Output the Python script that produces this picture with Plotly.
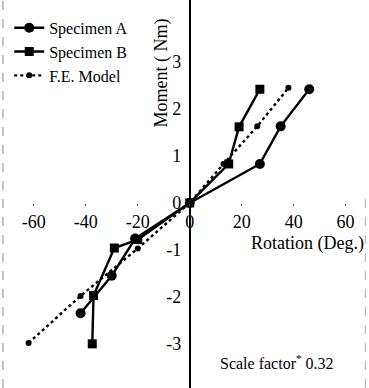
import plotly.graph_objects as go

# Data
rot_a = [-42, -30, -21, 0, 27, 35, 46]
mom_a = [-2.35, -1.55, -0.76, 0, 0.83, 1.63, 2.42]

rot_b = [-37.5, -37, -29, -20, 0, 15, 19, 27]
mom_b = [-3.0, -1.97, -0.96, -0.78, 0, 0.83, 1.62, 2.42]

rot_fe = [-62, -42, -20, 0, 13, 26, 38]
mom_fe = [-2.98, -1.98, -0.97, 0, 0.83, 1.63, 2.45]

x_ticks = [-60, -40, -20, 0, 20, 40, 60]
y_ticks = [-3, -2, -1, 0, 1, 2, 3]

FONT = "Liberation Serif, Times New Roman, serif"
X_RANGE = [-73, 69]
Y_RANGE = [-3.94, 4.32]

fig = go.Figure()
fig.add_trace(go.Scatter(x=rot_a, y=mom_a, name="Specimen A", mode="lines+markers",
                         line=dict(color="black", width=2.4),
                         marker=dict(symbol="circle", size=10, color="black")))
fig.add_trace(go.Scatter(x=rot_b, y=mom_b, name="Specimen B", mode="lines+markers",
                         line=dict(color="black", width=2.4),
                         marker=dict(symbol="square", size=9, color="black")))
fig.add_trace(go.Scatter(x=rot_fe, y=mom_fe, name="F.E. Model", mode="lines+markers",
                         line=dict(color="black", width=2.4, dash="dot"),
                         marker=dict(symbol="circle", size=6, color="black")))

x0_frac = (0 - X_RANGE[0]) / (X_RANGE[1] - X_RANGE[0])
y0_frac = (0 - Y_RANGE[0]) / (Y_RANGE[1] - Y_RANGE[0])

fig.update_layout(
    width=369, height=388,
    margin=dict(l=0, r=0, t=0, b=0),
    paper_bgcolor="white", plot_bgcolor="white",
    font=dict(family=FONT, size=17, color="black"),
    showlegend=True,
    legend=dict(x=0.025, y=0.972, xanchor="left", yanchor="top",
                bgcolor="rgba(0,0,0,0)", font=dict(size=16, family=FONT),
                tracegroupgap=0, itemwidth=30),
    xaxis=dict(range=X_RANGE, anchor="free", position=y0_frac,
               tickvals=x_ticks, ticktext=[str(v) for v in x_ticks],
               showgrid=False, zeroline=False, showline=False,
               ticks="outside", ticklen=2, tickcolor="#555",
               ticklabelstandoff=0,
               tickfont=dict(size=18, family=FONT)),
    yaxis=dict(range=Y_RANGE, anchor="free", position=x0_frac,
               tickvals=y_ticks, ticktext=[str(v) for v in y_ticks],
               showgrid=False, zeroline=False, showline=True,
               linecolor="black", linewidth=1.5, ticks="",
               ticklabelstandoff=4,
               tickfont=dict(size=18, family=FONT)),
    annotations=[
        dict(x=-10.8, y=2.77, xref="x", yref="y", text="Moment ( Nm)",
             textangle=-90, showarrow=False, font=dict(size=18, family=FONT)),
        dict(x=45.4, y=-0.86, xref="x", yref="y", text="Rotation (Deg.)",
             showarrow=False, font=dict(size=18, family=FONT)),
        dict(x=33.5, y=-3.38, xref="x", yref="y", text="Scale factor<sup>*</sup> 0.32",
             showarrow=False, font=dict(size=16, family=FONT)),
    ],
    shapes=[
        dict(type="line", xref="paper", yref="paper", x0=0.008, x1=0.008, y0=0, y1=1,
             line=dict(color="#888", width=1, dash="dash")),
        dict(type="line", xref="paper", yref="paper", x0=0.99, x1=0.99, y0=0, y1=0.5,
             line=dict(color="#aaa", width=1, dash="dash")),
    ],
)

fig.write_html("out.html")
